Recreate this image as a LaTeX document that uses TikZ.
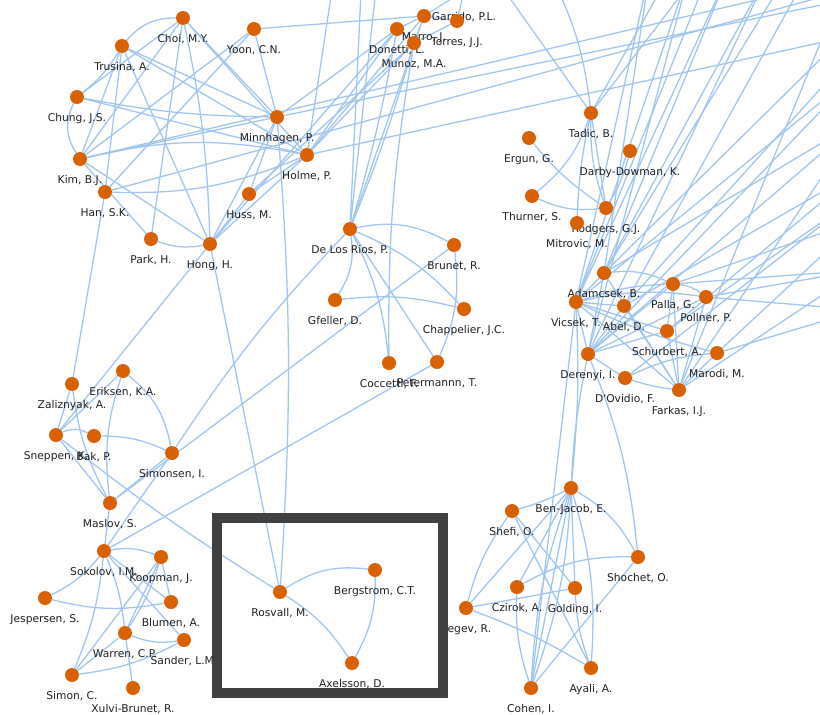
\documentclass[tikz,border=0pt]{standalone}
\usepackage{fontspec}
\setmainfont{DejaVu Sans}
\definecolor{edgeblue}{RGB}{160,198,240}
\definecolor{dotorange}{RGB}{217,97,4}
\definecolor{framegray}{RGB}{64,64,64}
\pgfdeclarelayer{edges}
\pgfdeclarelayer{labels}
\pgfdeclarelayer{front}
\pgfsetlayers{edges,labels,main,front}
% person: name, x, y, printed label (label set below the dot)
\newcommand\pn[4]{%
  \node[pt] (#1) at (#2,#3) {};
  \begin{pgfonlayer}{labels}\node[lbl] (#1-l) at ([yshift=-24pt]#1.center) {#4};\end{pgfonlayer}}
\begin{document}
\begin{tikzpicture}[x=1pt,y=-1pt,
  pt/.style={circle,fill=dotorange,inner sep=0pt,minimum size=14pt},
  lbl/.style={anchor=base,inner sep=0pt,font=\fontsize{10.7}{12}\selectfont,text=black!88},
  e/.style={draw=edgeblue,line width=1.3pt},
  frame/.style={draw=framegray,line width=10pt}]
\useasboundingbox (0,0) rectangle (820,715);

% ---- people ----
\pn{choi}{183}{18}{Choi, M.Y.}
\pn{yoon}{254}{29}{Yoon, C.N.}
\pn{trus}{122}{46}{Trusina, A.}
\pn{chung}{77}{97}{Chung, J.S.}
\pn{minn}{277}{117}{Minnhagen, P.}
\pn{kim}{80}{159}{Kim, B.J.}
\pn{holme}{307}{155}{Holme, P.}
\pn{han}{105}{192}{Han, S.K.}
\pn{huss}{249}{194}{Huss, M.}
\pn{park}{151}{239}{Park, H.}
\pn{hong}{210}{244}{Hong, H.}
\node[pt] (garrido) at (464,-9) {};
\begin{pgfonlayer}{labels}\node[lbl] (garrido-l) at (464,20) {Garrido, P.L.};\end{pgfonlayer}
\pn{marro}{424}{16}{Marro, J.}
\pn{torres}{457}{21}{Torres, J.J.}
\pn{donetti}{397}{29}{Donetti, L.}
\pn{munoz}{414}{43}{Munoz, M.A.}
\pn{dlr}{350}{229}{De Los Rios, P.}
\pn{brunet}{454}{245}{Brunet, R.}
\pn{gfeller}{335}{300}{Gfeller, D.}
\pn{chap}{464}{309}{Chappelier, J.C.}
\pn{cocc}{389}{363}{Coccetti, F.}
\pn{peter}{437}{362}{Petermannn, T.}
\pn{ergun}{529}{138}{Ergun, G.}
\pn{thurner}{532}{196}{Thurner, S.}
\pn{tadic}{591}{113}{Tadic, B.}
\pn{darby}{630}{151}{Darby-Dowman, K.}
\pn{rodgers}{606}{208}{Rodgers, G.J.}
\pn{mitro}{577}{223}{Mitrovic, M.}
\pn{adam}{604}{273}{Adamcsek, B.}
\pn{vicsek}{576}{302}{Vicsek, T.}
\pn{abel}{624}{306}{Abel, D.}
\pn{palla}{673}{284}{Palla, G.}
\pn{pollner}{706}{297}{Pollner, P.}
\pn{schur}{667}{331}{Schurbert, A.}
\pn{marodi}{717}{353}{Marodi, M.}
\pn{derenyi}{588}{354}{Derenyi, I.}
\pn{dovidio}{625}{378}{D\textquotesingle Ovidio, F.}
\pn{farkas}{679}{390}{Farkas, I.J.}
\pn{zal}{72}{384}{Zaliznyak, A.}
\pn{eriksen}{123}{371}{Eriksen, K.A.}
\pn{sneppen}{56}{435}{Sneppen, K.}
\pn{bak}{94}{436}{Bak, P.}
\pn{simonsen}{172}{453}{Simonsen, I.}
\pn{maslov}{110}{503}{Maslov, S.}
\pn{sokolov}{104}{551}{Sokolov, I.M.}
\pn{koopman}{161}{557}{Koopman, J.}
\pn{jesp}{45}{598}{Jespersen, S.}
\pn{blumen}{171}{602}{Blumen, A.}
\pn{warren}{125}{633}{Warren, C.P.}
\pn{sander}{184}{640}{Sander, L.M.}
\pn{simon}{72}{675}{Simon, C.}
\pn{xulvi}{133}{688}{Xulvi-Brunet, R.}
\pn{rosvall}{280}{592}{Rosvall, M.}
\pn{berg}{375}{570}{Bergstrom, C.T.}
\pn{axel}{352}{663}{Axelsson, D.}
\pn{benj}{571}{488}{Ben-Jacob, E.}
\pn{shefi}{512}{511}{Shefi, O.}
\pn{shochet}{638}{557}{Shochet, O.}
\pn{czirok}{517}{587}{Czirok, A.}
\pn{golding}{575}{588}{Golding, I.}
\pn{segev}{466}{608}{Segev, R.}
\pn{ayali}{591}{668}{Ayali, A.}
\pn{cohen}{531}{688}{Cohen, I.}

% ---- far ends of links that leave the frame ----
\coordinate (oK) at (884,-30);
\coordinate (oH) at (921,-30);
\coordinate (oHo) at (860,34);
\coordinate (oM) at (860,-3);
\coordinate (oT1) at (335,-30);
\coordinate (oT2) at (362,-30);
\coordinate (oT3) at (378,-30);
\coordinate (oT4) at (497,-20);
\coordinate (oT5) at (548,-30);
\coordinate (oT6) at (672,-30);
\coordinate (oT7) at (700,-30);
\coordinate (f1) at (650,-30);
\coordinate (f2) at (690,-30);
\coordinate (f3) at (730,-30);
\coordinate (f4) at (770,-30);
\coordinate (f5) at (810,-30);
\coordinate (f6) at (850,-30);
\coordinate (f7) at (710,-30);
\coordinate (f8) at (790,-30);
\coordinate (g1) at (860,20);
\coordinate (g2) at (860,70);
\coordinate (g3) at (860,120);
\coordinate (g4) at (860,170);
\coordinate (g5) at (860,220);
\coordinate (g6) at (860,270);
\coordinate (g7) at (860,310);
\coordinate (g8) at (860,45);
\coordinate (g9) at (860,195);

\begin{pgfonlayer}{edges}
\foreach \a/\b/\s in {
  % upper left group
  trus/choi/25, trus/chung/10, trus/kim/0, trus/minn/0, trus/holme/0, trus/hong/0,
  chung/kim/-30, chung/choi/0, chung/minn/-5, chung/holme/0,
  kim/choi/0, kim/minn/0, kim/holme/12, kim/hong/0, kim/yoon/0,
  han/yoon/0, han/holme/-12, han/trus/0,
  huss/holme/0, huss/hong/0, huss/minn/0,
  park/hong/-15, park/kim/0, park/choi/0,
  hong/holme/0, hong/minn/0, hong/choi/-5,
  yoon/minn/0, choi/minn/0, choi/holme/0,
  % long links out of it
  minn/rosvall/4, hong/rosvall/0,
  kim/oK/0, han/oH/0, holme/oHo/0, minn/oM/0,
  holme/munoz/0, holme/donetti/0, holme/marro/0, minn/donetti/0,
  hong/donetti/0, huss/munoz/0, yoon/marro/0, holme/oT1/0,
  han/zal/0, hong/sneppen/0,
  % top middle
  marro/donetti/0, marro/munoz/0, torres/munoz/0, garrido/marro/0,
  garrido/torres/0, donetti/munoz/0, torres/marro/0,
  dlr/donetti/-3, dlr/munoz/-3, dlr/marro/0, dlr/oT2/0, dlr/oT3/0, cocc/munoz/5,
  % Tadic group
  tadic/oT4/0, tadic/oT5/-10, tadic/oT6/0, tadic/oT7/0,
  tadic/rodgers/0, tadic/rodgers/-10, thurner/tadic/-15, mitro/tadic/5,
  ergun/rodgers/-8, thurner/rodgers/-15, darby/rodgers/8,
  % De Los Rios group
  dlr/brunet/20, dlr/gfeller/20, dlr/chap/12, dlr/cocc/10, dlr/peter/0,
  brunet/peter/15, gfeller/chap/10,
  brunet/maslov/0, dlr/simonsen/-5, peter/sokolov/0,
  % Sneppen group
  zal/sneppen/0, zal/maslov/-10, eriksen/sneppen/0, eriksen/maslov/-12,
  eriksen/simonsen/20, sneppen/bak/25, bak/simonsen/12, sneppen/maslov/0,
  maslov/simonsen/0, simonsen/sokolov/0, maslov/sokolov/0, sneppen/rosvall/-3,
  % Sokolov group
  sokolov/jesp/12, sokolov/koopman/15, sokolov/blumen/0, sokolov/warren/8,
  sokolov/sander/0, sokolov/simon/8, koopman/blumen/0, koopman/warren/0,
  koopman/warren/8, koopman/simon/0, jesp/blumen/-12, warren/sander/-15,
  warren/simon/0, warren/xulvi/0, sander/simon/10,
  % Rosvall group
  rosvall/berg/20, rosvall/axel/12, berg/axel/15,
  % Ben-Jacob group
  benj/shefi/5, benj/shochet/15, benj/czirok/0, benj/golding/0, benj/segev/0,
  benj/cohen/0, benj/cohen/8, benj/cohen/-8, benj/ayali/10,
  shefi/segev/-10, shefi/golding/0, shefi/ayali/0, segev/golding/0,
  segev/ayali/5, czirok/shochet/15, czirok/cohen/-10, golding/ayali/-8,
  shochet/cohen/0,
  vicsek/benj/4, derenyi/benj/-4, vicsek/cohen/0, derenyi/shochet/8,
  % Vicsek group
  adam/vicsek/0, adam/palla/15, adam/farkas/0, adam/derenyi/0,
  vicsek/abel/0, vicsek/palla/8, vicsek/pollner/10, vicsek/schur/0,
  vicsek/farkas/0, vicsek/derenyi/0, vicsek/marodi/-5,
  abel/farkas/0, abel/derenyi/0, palla/pollner/15, palla/farkas/0,
  palla/derenyi/0, palla/schur/0, pollner/farkas/0, schur/farkas/0,
  schur/derenyi/0, marodi/farkas/0, marodi/dovidio/-10, derenyi/dovidio/0,
  dovidio/farkas/-5, derenyi/pollner/0,
  % Vicsek group links leaving the frame
  vicsek/f1/0, vicsek/f2/0, vicsek/f3/0, vicsek/g2/0, vicsek/f7/0,
  adam/f1/0, adam/f3/0, adam/f4/0, adam/g1/0, adam/g3/0, adam/f8/0,
  abel/f5/0, abel/g4/0, abel/g8/0, palla/g5/0, palla/g6/0, pollner/g6/0, pollner/g7/0,
  schur/g4/0, schur/g9/0, marodi/g7/0, marodi/g5/0, farkas/f6/0, farkas/g6/0,
  farkas/g3/0, derenyi/f2/0, derenyi/f4/0, derenyi/g2/0, derenyi/g3/0,
  dovidio/g9/0}
  \draw[e] (\a) to[bend left=\s] (\b);
\end{pgfonlayer}

\begin{pgfonlayer}{front}
\draw[frame] (217,517.5) rectangle (443,693);
\end{pgfonlayer}
\end{tikzpicture}
\end{document}
